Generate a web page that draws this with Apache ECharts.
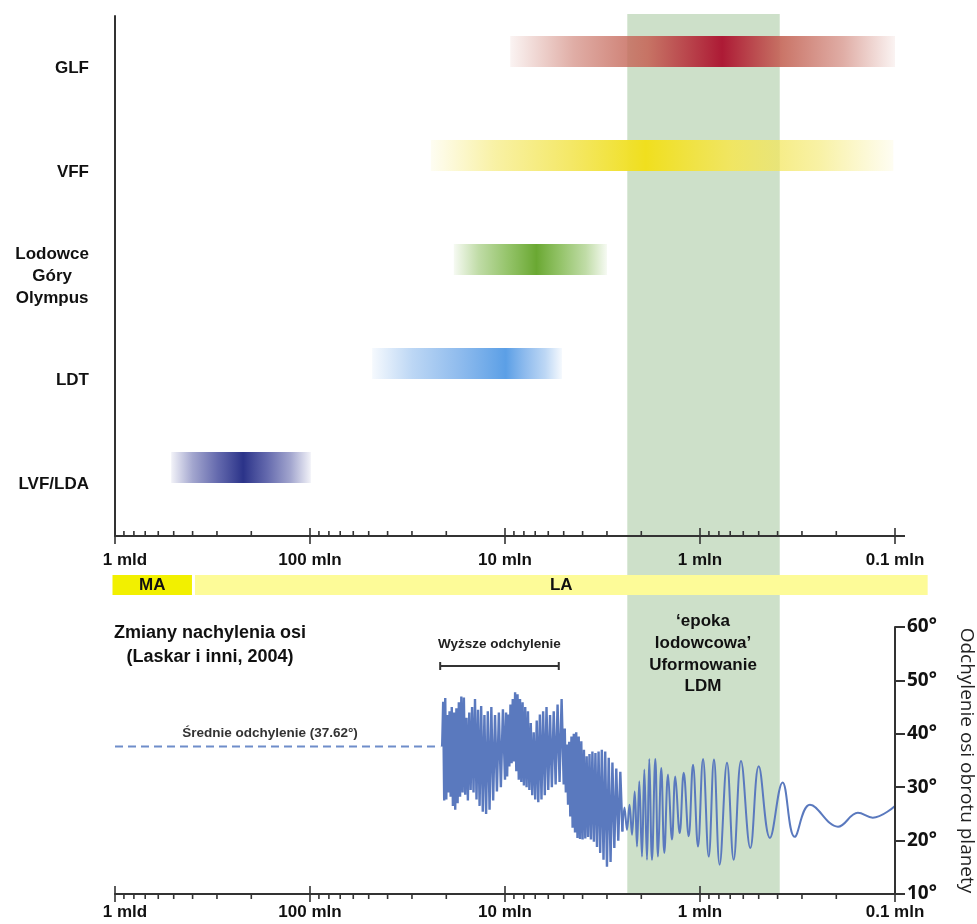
<!DOCTYPE html>
<html><head><meta charset="utf-8">
<script src="https://cdn.jsdelivr.net/npm/echarts@6/dist/echarts.min.js"></script>
<style>html,body{margin:0;padding:0;background:#fff}#c{width:977px;height:924px}</style>
</head><body><div id="c"></div>
<script>
// ---------- DATA ----------
const barCategories = ['GLF', 'VFF', 'Lodowce\nGóry\nOlympus', 'LDT', 'LVF/LDA'];
const barStartMyr = [9.4, 24, 18.3, 48, 515];
const barPeakMyr  = [0.77, 1.9, 6.9, 9.9, 220];
const barEndMyr   = [0.1, 0.102, 3.0, 5.1, 99];

const eraNames    = ['MA', 'LA'];
const eraStartMyr = [1030, 389];
const eraEndMyr   = [403, 0.068];

const iceAgeMyr = [2.36, 0.39];

const xTickValues = [1000, 100, 10, 1, 0.1];
const xTickLabels = ['1 mld', '100 mln', '10 mln', '1 mln', '0.1 mln'];
const xMinorTicks = [900, 800, 700, 600, 500, 400, 300, 200,
                     90, 80, 70, 60, 50, 40, 30, 20,
                     9, 8, 7, 6, 5, 4, 3, 2,
                     0.9, 0.8, 0.7, 0.6, 0.5, 0.4, 0.3, 0.2];

const meanObliquity = 37.62;
const meanRangeMyr = [1000, 21.5];
const higherObliquityRangeMyr = [21.5, 5.3];
const higherObliquityLevel = 52.7;

const obliquityDenseAge = [
  21, 20.75, 20.5, 20.25, 20, 19.75, 19.5, 19.25, 19, 18.75, 18.5, 18.25, 18, 17.75, 17.5, 17.25, 17,
  16.75, 16.5, 16.25, 16, 15.75, 15.5, 15.25, 15, 14.75, 14.5, 14.25, 14, 13.75, 13.5, 13.25, 13,
  12.75, 12.5, 12.25, 12, 11.75, 11.5, 11.25, 11, 10.75, 10.5, 10.25, 10,
  9.875, 9.75, 9.625, 9.5, 9.375, 9.25, 9.125, 9, 8.875, 8.75, 8.625, 8.5, 8.375, 8.25, 8.125, 8,
  7.875, 7.75, 7.625, 7.5, 7.375, 7.25, 7.125, 7, 6.875, 6.75, 6.625, 6.5, 6.375, 6.25, 6.125, 6,
  5.875, 5.75, 5.625, 5.5, 5.375, 5.25, 5.125, 5,
  4.9375, 4.875, 4.8125, 4.75, 4.6875, 4.625, 4.5625, 4.5, 4.4375, 4.375, 4.3125, 4.25, 4.1875, 4.125, 4.0625, 4,
  3.9375, 3.875, 3.8125, 3.75, 3.6875, 3.625, 3.5625, 3.5, 3.4375, 3.375, 3.3125, 3.25, 3.1875, 3.125, 3.0625, 3,
  2.9375, 2.875, 2.8125, 2.75, 2.6875, 2.625, 2.5625, 2.5];
const obliquityDense = [
  37.6, 46.0, 27.5, 46.7, 27.7, 43.5, 29.0, 44.2, 28.2, 45.0, 26.5, 44.0, 25.8, 44.8, 27.0, 45.9, 28.2,
  47.0, 29.0, 46.8, 28.6, 43.0, 27.5, 44.0, 29.5, 45.0, 29.0, 46.5, 27.7, 44.5, 26.5, 45.2, 25.4,
  43.5, 25.0, 44.2, 25.8, 45.0, 27.5, 43.5, 29.2, 44.0, 30.0, 44.6, 31.4,
  44.0, 32.0, 43.6, 33.9, 45.5, 34.5, 46.5, 34.8, 47.8, 33.0, 47.4, 31.4, 46.5, 31.0, 45.9, 30.3,
  45.0, 30.0, 44.2, 29.5, 42.0, 28.5, 40.3, 27.7, 42.5, 27.2, 43.6, 27.7, 44.2, 28.5, 45.0, 29.5,
  43.5, 30.0, 44.2, 30.5, 45.5, 31.0, 46.5, 30.5,
  41.0, 29.0, 38.0, 26.7, 38.5, 24.5, 39.5, 22.4, 40.0, 21.5, 40.3, 20.5, 39.5, 20.3, 38.6, 20.2,
  37.0, 20.4, 35.8, 20.7, 36.2, 20.2, 36.7, 19.8, 36.4, 18.8, 36.7, 17.7, 37.0, 16.4, 36.7, 15.1,
  35.5, 16.0, 34.6, 18.6, 33.5, 20.0, 32.9, 21.7];

const obliquitySparseAge = [2.5, 2.439, 2.368, 2.299, 2.232, 2.162, 2.104, 2.048, 1.984, 1.930, 1.870, 1.820, 1.763, 1.695, 1.642,
  1.580, 1.524, 1.459, 1.392, 1.339, 1.271, 1.212, 1.143, 1.086, 1.024, 0.965, 0.902, 0.848, 0.793, 0.727,
  0.672, 0.616, 0.552, 0.500, 0.438, 0.377, 0.327, 0.273, 0.196, 0.155, 0.130, 0.100];
const obliquitySparse = [21.7, 26.2, 22.0, 26.7, 21.1, 29.2, 18.9, 31.1, 17.0, 33.3, 16.4, 35.3, 16.4, 35.3, 17.0,
  33.6, 17.7, 32.4, 20.2, 32.0, 21.4, 32.7, 20.8, 34.2, 18.9, 35.3, 17.0, 35.2, 15.5, 34.6,
  16.4, 34.9, 18.6, 33.9, 20.5, 30.9, 20.7, 26.7, 22.6, 25.2, 24.3, 26.5];

const yTickSuffix = '°';

// ---------- STYLE / LAYOUT ----------
const FONT = '"Liberation Sans", Arial, sans-serif';
const AX = '#333';
const LAYOUT = { left: 115, right: 82, topGridTop: 16, topGridBottomY: 536, botGridTop: 627, botAxisY: 894 };
const barPeakColors  = ['#ad1a35', '#f0df1e', '#6aa832', '#5b9fe6', '#2b3389'];
const barLightColors = ['#c66a5c', '#f3e65a', '#8cbf5e', '#86b6ec', '#565ca6'];
const eraColors = ['#f2f000', '#fdfb98'];
const LINE = '#5a79be';

function rgba(hex, a) { const n = parseInt(hex.slice(1), 16); return 'rgba(' + ((n >> 16) & 255) + ',' + ((n >> 8) & 255) + ',' + (n & 255) + ',' + a + ')'; }

function xLabelFormatter(v) {
  for (let i = 0; i < xTickValues.length; i++) {
    if (Math.abs(Math.log10(v) - Math.log10(xTickValues[i])) < 1e-6) return i === 0 ? '{first|' + xTickLabels[i] + '}' : xTickLabels[i];
  }
  return '';
}

function xAxisDef(gridIndex, margin) {
  return {
    type: 'log', logBase: 10, gridIndex: gridIndex, min: 0.1, max: 1000, inverse: true, z: 5,
    axisLine: { show: true, lineStyle: { color: AX, width: 2 } },
    axisTick: { show: false }, minorTick: { show: false }, splitLine: { show: false },
    axisLabel: {
      margin: margin, formatter: xLabelFormatter, color: '#111', fontFamily: FONT, fontWeight: 'bold', fontSize: 17,
      showMinLabel: true, showMaxLabel: true, hideOverlap: false,
      rich: { first: { padding: [0, 0, 0, 20], fontFamily: FONT, fontWeight: 'bold', fontSize: 17, color: '#111' } }
    }
  };
}

function tickSeries(axisIdx, minorDown, extendRight) {
  return {
    type: 'custom', xAxisIndex: axisIdx, yAxisIndex: axisIdx, z: 6, silent: true, clip: false,
    data: xTickValues.map(v => [v, 1]).concat(xMinorTicks.map(v => [v, 0])),
    renderItem: function (params, api) {
      const v = api.value(0), major = api.value(1);
      const x = api.coord([v, 0])[0];
      const cs = params.coordSys;
      const yb = cs.y + cs.height;
      const st = { stroke: AX, lineWidth: 1.6 };
      if (major) {
        const children = [{ type: 'line', shape: { x1: x, y1: yb - 8, x2: x, y2: yb + 8 }, style: st }];
        if (extendRight && Math.abs(v - 0.1) < 1e-9) children.push({ type: 'line', shape: { x1: x, y1: yb, x2: x + 10, y2: yb }, style: { stroke: AX, lineWidth: 2 } });
        return { type: 'group', children: children };
      }
      return { type: 'line', shape: { x1: x, y1: minorDown ? yb : yb - 5, x2: x, y2: minorDown ? yb + 5 : yb }, style: st };
    }
  };
}

const chart = echarts.init(document.getElementById('c'), null, { renderer: 'canvas' });

const option = {
  animation: false,
  backgroundColor: '#fff',
  grid: [
    { left: LAYOUT.left, right: LAYOUT.right, top: LAYOUT.topGridTop, height: LAYOUT.topGridBottomY - LAYOUT.topGridTop, containLabel: false, outerBoundsMode: 'none' },
    { left: LAYOUT.left, right: LAYOUT.right, top: LAYOUT.botGridTop, height: LAYOUT.botAxisY - LAYOUT.botGridTop, containLabel: false, outerBoundsMode: 'none' }
  ],
  xAxis: [xAxisDef(0, 16), xAxisDef(1, 10)],
  yAxis: [
    {
      type: 'category', gridIndex: 0, data: barCategories, inverse: true, z: 5,
      axisLine: { lineStyle: { color: AX, width: 2 } },
      axisTick: { alignWithLabel: true, length: 13, lineStyle: { color: AX, width: 2 } },
      splitLine: { show: false },
      axisLabel: {
        margin: 26, color: '#111', fontFamily: FONT, fontWeight: 'bold', fontSize: 17, lineHeight: 22,
        formatter: v => v.indexOf('\n') >= 0 ? '{c|' + v + '}' : v,
        rich: { c: { align: 'center', fontFamily: FONT, fontWeight: 'bold', fontSize: 17, lineHeight: 22, color: '#111' } }
      }
    },
    {
      type: 'value', gridIndex: 1, position: 'right', min: 10, max: 60, interval: 10, z: 5,
      axisLine: { show: true, lineStyle: { color: AX, width: 2 } },
      axisTick: { show: true, length: 10, lineStyle: { color: AX, width: 2 } },
      splitLine: { show: false },
      axisLabel: { margin: 12, formatter: v => v + yTickSuffix, color: '#111', fontFamily: '"Open Sans"', fontWeight: 'bold', fontSize: 19 },
      name: 'Odchylenie osi obrotu planety', nameLocation: 'middle', nameRotate: -90, nameGap: 62,
      nameTextStyle: { fontFamily: '"Open Sans"', fontSize: 19, color: '#222' }
    }
  ],
  series: [
    // ice age band
    {
      type: 'custom', xAxisIndex: 0, yAxisIndex: 0, z: 1, silent: true, clip: false,
      data: [[iceAgeMyr[0], 0, iceAgeMyr[1]]],
      renderItem: function (params, api) {
        const a = api.coord([api.value(0), 0]), b = api.coord([api.value(2), 0]);
        const cs = params.coordSys;
        return { type: 'rect', shape: { x: a[0], y: cs.y - 2, width: b[0] - a[0], height: LAYOUT.botAxisY - cs.y + 2 }, style: { fill: '#cde0c9' } };
      }
    },
    // gradient bars
    {
      type: 'custom', xAxisIndex: 0, yAxisIndex: 0, z: 3, silent: true, clip: false,
      data: barCategories.map((c, i) => [barStartMyr[i], i, barEndMyr[i], barPeakMyr[i]]),
      renderItem: function (params, api) {
        const i = params.dataIndex;
        const s = api.coord([api.value(0), api.value(1)]);
        const e = api.coord([api.value(2), api.value(1)]);
        const p = api.coord([api.value(3), api.value(1)]);
        const x0 = s[0], x1 = e[0];
        const f = (p[0] - x0) / (x1 - x0);
        const L = barLightColors[i], P = barPeakColors[i];
        const grad = new echarts.graphic.LinearGradient(0, 0, 1, 0, [
          { offset: 0, color: rgba(L, 0.08) },
          { offset: f * 0.3, color: rgba(L, 0.55) },
          { offset: f * 0.65, color: rgba(L, 0.92) },
          { offset: f, color: P },
          { offset: f + (1 - f) * 0.35, color: rgba(L, 0.92) },
          { offset: f + (1 - f) * 0.7, color: rgba(L, 0.55) },
          { offset: 1, color: rgba(L, 0.08) }
        ]);
        return { type: 'rect', shape: { x: x0, y: s[1] - 32, width: x1 - x0, height: 31 }, style: { fill: grad } };
      }
    },
    // MA / LA strip
    {
      type: 'custom', xAxisIndex: 0, yAxisIndex: 0, z: 4, silent: true, clip: false,
      data: eraNames.map((n, i) => [eraStartMyr[i], 0, eraEndMyr[i]]),
      renderItem: function (params, api) {
        const i = params.dataIndex;
        const a = api.coord([api.value(0), 0]), b = api.coord([api.value(2), 0]);
        const cs = params.coordSys;
        const yb = cs.y + cs.height;
        return {
          type: 'group', children: [
            { type: 'rect', shape: { x: a[0], y: yb + 39, width: b[0] - a[0], height: 20 }, style: { fill: eraColors[i] } },
            { type: 'text', x: (a[0] + b[0]) / 2, y: yb + 49, style: { text: eraNames[i], align: 'center', verticalAlign: 'middle', font: 'bold 17px ' + FONT, fill: '#111' } }
          ]
        };
      }
    },
    tickSeries(0, false, true),
    tickSeries(1, true, false),
    // mean obliquity dashed line
    {
      type: 'line', xAxisIndex: 1, yAxisIndex: 1, z: 3, symbol: 'none', silent: true,
      data: meanRangeMyr.map(a => [a, meanObliquity]),
      lineStyle: { color: '#6f8dca', width: 2, type: [8, 5] }
    },
    // dense obliquity
    {
      type: 'line', xAxisIndex: 1, yAxisIndex: 1, z: 3, symbol: 'none', silent: true,
      data: obliquityDenseAge.map((a, i) => [a, obliquityDense[i]]),
      lineStyle: { color: LINE, width: 2.4 }
    },
    // sparse obliquity
    {
      type: 'line', xAxisIndex: 1, yAxisIndex: 1, z: 3, symbol: 'none', silent: true, smooth: 0.4,
      data: obliquitySparseAge.map((a, i) => [a, obliquitySparse[i]]),
      lineStyle: { color: LINE, width: 2 }
    },
    // higher obliquity bracket
    {
      type: 'custom', xAxisIndex: 1, yAxisIndex: 1, z: 4, silent: true, clip: false,
      data: [[higherObliquityRangeMyr[0], higherObliquityLevel, higherObliquityRangeMyr[1]]],
      renderItem: function (params, api) {
        const a = api.coord([api.value(0), api.value(1)]), b = api.coord([api.value(2), api.value(1)]);
        const st = { stroke: '#333', lineWidth: 2 };
        return {
          type: 'group', children: [
            { type: 'line', shape: { x1: a[0], y1: a[1], x2: b[0], y2: b[1] }, style: st },
            { type: 'line', shape: { x1: a[0], y1: a[1] - 4, x2: a[0], y2: a[1] + 4 }, style: st },
            { type: 'line', shape: { x1: b[0], y1: b[1] - 4, x2: b[0], y2: b[1] + 4 }, style: st },
            { type: 'text', x: (a[0] + b[0]) / 2, y: a[1] - 22, style: { text: 'Wyższe odchylenie', align: 'center', verticalAlign: 'middle', font: 'bold 13.5px ' + FONT, fill: '#222' } }
          ]
        };
      }
    }
  ],
  graphic: [
    { type: 'text', x: 210, y: 645, z: 10, style: { text: 'Zmiany nachylenia osi\n(Laskar i inni, 2004)', align: 'center', verticalAlign: 'middle', font: 'bold 18px ' + FONT, lineHeight: 24, fill: '#111' } },
    { type: 'text', x: 270, y: 733, z: 10, style: { text: 'Średnie odchylenie (37.62°)', align: 'center', verticalAlign: 'middle', font: 'bold 13.5px ' + FONT, fill: '#333' } },
    { type: 'text', x: 703, y: 654, z: 10, style: { text: '‘epoka\nlodowcowa’\nUformowanie\nLDM', align: 'center', verticalAlign: 'middle', font: 'bold 17px ' + FONT, lineHeight: 21.7, fill: '#111' } }
  ]
};
chart.setOption(option);
</script>
</body></html>
